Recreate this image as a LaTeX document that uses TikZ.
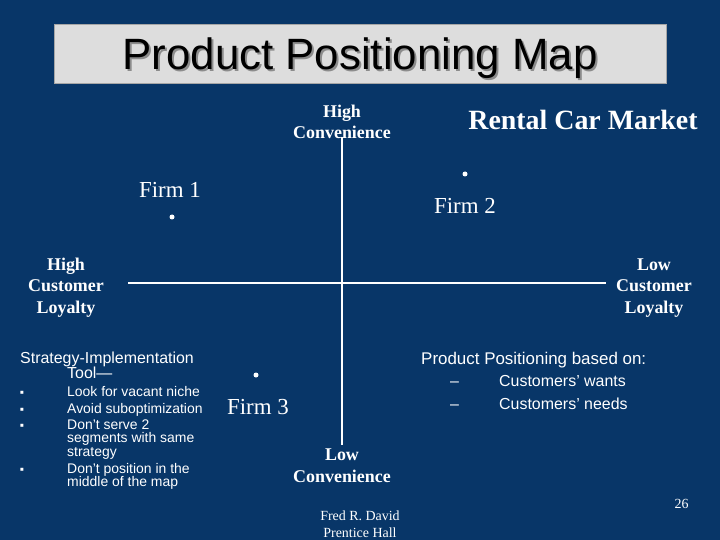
\documentclass[tikz,border=0pt]{standalone}
\usepackage{fontspec}
\setmainfont{Liberation Serif}
\setsansfont{Liberation Sans}
\usetikzlibrary{positioning}
\definecolor{slideblue}{RGB}{8,54,104}
\definecolor{titlegray}{RGB}{221,221,221}
\definecolor{shadegray}{RGB}{140,140,140}

\begin{document}
\begin{tikzpicture}[x=1bp,y=-1bp,
  axislbl/.style={text=white,font=\bfseries\fontsize{18}{21.5}\selectfont,align=center,anchor=base,inner sep=0pt},
  firm/.style={text=white,font=\fontsize{23}{27}\selectfont,anchor=base,inner sep=0pt},
  dot/.style={circle,fill=white,inner sep=0pt,minimum size=5bp},
  note/.style={text=white,font=\sffamily\fontsize{14}{16}\selectfont,anchor=base west,inner sep=0pt},
  bigsans/.style={text=white,font=\sffamily\fontsize{16}{18}\selectfont,anchor=base west,inner sep=0pt},
  blt/.style={text=white,font=\sffamily\fontsize{12}{12}\selectfont,anchor=base,inner sep=0pt},
  small/.style={text=white,font=\fontsize{14}{16.5}\selectfont,anchor=base,inner sep=0pt}]
\fill[slideblue] (0,0) rectangle (720,540);
\useasboundingbox (0,0) rectangle (720,540);

% title bar
\draw[fill=titlegray,draw=gray!70] (54,24) rectangle (666,83);
\node[text=black,font=\sffamily\fontsize{44}{48}\selectfont,anchor=base,inner sep=0pt] (title) at (360,70)
  {\rlap{\hspace{2bp}\raisebox{-2bp}{\color{shadegray}Product Positioning Map}}Product Positioning Map};

% axes
\coordinate (ctop) at (342,137);
\coordinate (cbot) at (342,445);
\coordinate (lleft) at (128,283);
\coordinate (lright) at (606,283);
\draw[white,line width=1.6bp] (ctop) -- (cbot);
\draw[white,line width=1.6bp] (lleft) -- (lright);

% axis labels (anchor = last line)
\node[axislbl] (hiconv) at (342,139) {High\\Convenience};
\node[axislbl] (loconv) at (342,482) {Low\\Convenience};
\node[axislbl] (hiloyal) at (66,313) {High\\Customer\\Loyalty};
\node[axislbl] (loloyal) at (654,313) {Low\\Customer\\Loyalty};
\node[text=white,font=\bfseries\fontsize{28}{32}\selectfont,anchor=base,inner sep=0pt] (market) at (583,130) {Rental Car Market};

% firms
\node[dot] (dot1) at (172,217) {};
\node[firm] (firm1) at (170,198) {Firm 1};
\node[dot] (dot2) at (465,174) {};
\node[firm] (firm2) at (465,214) {Firm 2};
\node[dot] (dot3) at (256,375) {};
\node[firm] (firm3) at (258,414) {Firm 3};

% left notes
\node[bigsans] (sit) at (20,363) {Strategy-Implementation};
\node[bigsans] (tool) at (67,378.5) {Tool—};
\node[blt] (b1) at (22,396.5) {▪};
\node[blt] (b2) at (22,413) {▪};
\node[blt] (b3) at (22,429.3) {▪};
\node[blt] (b4) at (22,473.3) {▪};
\node[note] (n1) at (67,396.7) {Look for vacant niche};
\node[note] (n2) at (67,413) {Avoid suboptimization};
\node[note] (n3) at (67,429.3) {Don't serve 2};
\node[note] (n3b) at (67,442.5) {segments with same};
\node[note] (n3c) at (67,456) {strategy};
\node[note] (n4) at (67,473.3) {Don't position in the};
\node[note] (n4b) at (67,486.7) {middle of the map};

% right notes
\node[text=white,font=\sffamily\fontsize{17}{20}\selectfont,anchor=base west,inner sep=0pt] (basis) at (421,364) {Product Positioning based on:};
\node[bigsans] (d1) at (450,386.7) {–};
\node[bigsans] (d2) at (450,409.3) {–};
\node[bigsans] (wants) at (499,386.7) {Customers’ wants};
\node[bigsans] (needs) at (499,409.3) {Customers’ needs};

% footer
\node[small] (author) at (360,520.7) {Fred R. David};
\node[small] (publ) at (360,537.3) {Prentice Hall};
\node[small] (page) at (681.5,508.3) {26};
\end{tikzpicture}
\end{document}
